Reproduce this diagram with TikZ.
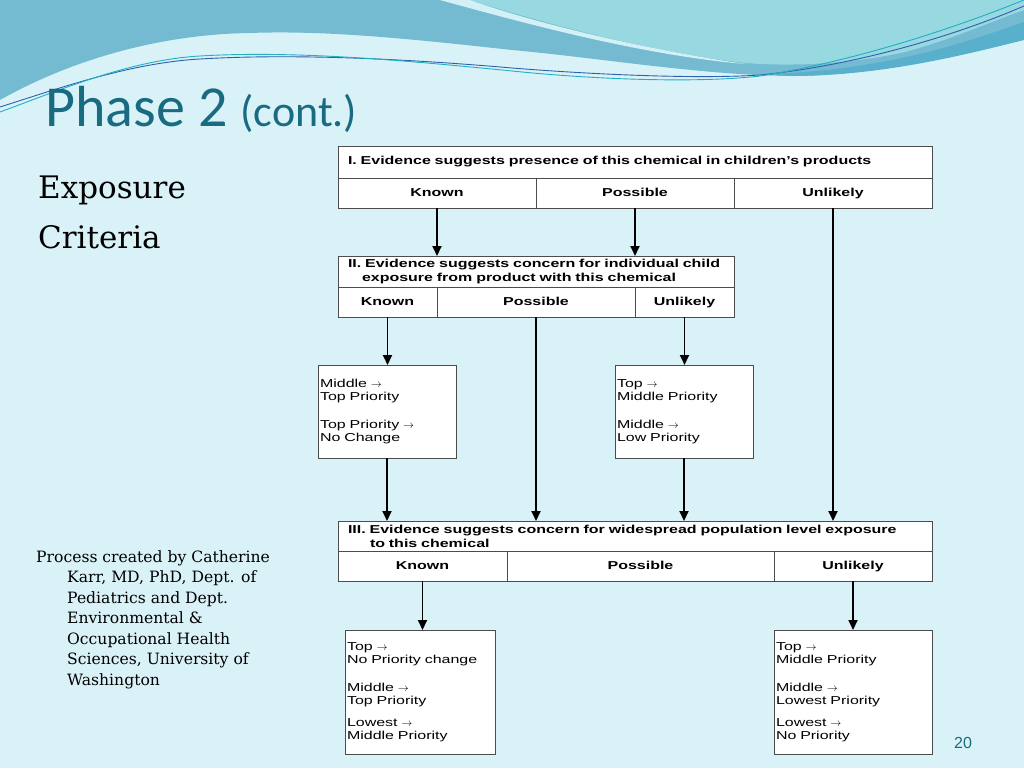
\documentclass[tikz,border=0pt]{standalone}
\usepackage{fontspec}
\setmainfont{DejaVu Serif}
\newfontfamily\boxfont[FakeStretch=1.39]{Liberation Sans}
\newfontfamily\numfont{Liberation Sans}
\newfontfamily\headfont{Carlito}
\usetikzlibrary{positioning,arrows.meta}
\definecolor{slidebg}{RGB}{217,242,248}
\definecolor{wavemid}{RGB}{116,187,209}
\definecolor{wavelight}{RGB}{151,216,225}
\definecolor{wavestreak}{RGB}{210,240,245}
\definecolor{wavedark}{RGB}{89,176,204}
\definecolor{lineblue}{RGB}{47,95,176}
\definecolor{lineteal}{RGB}{32,176,192}
\definecolor{headteal}{RGB}{24,107,128}
\newcommand{\prioarrow}{{\fontsize{10.5}{10}\selectfont$\rightarrow$}}
\tikzset{
    headrow/.style={draw=black!70, fill=white, anchor=north west, align=left, inner xsep=10pt, inner ysep=0pt, outer sep=0pt, font=\boxfont\bfseries\fontsize{11.5}{14}\selectfont},
    cellbox/.style={draw=black!70, fill=white, inner sep=0pt, outer sep=0pt, minimum height=30pt, text height=8.5pt, text depth=2.5pt, font=\boxfont\bfseries\fontsize{11.5}{14}\selectfont},
    outcome/.style={draw=black!70, fill=white, anchor=north west, align=left, inner xsep=2pt, inner ysep=0pt, outer sep=0pt, font=\boxfont\fontsize{11.5}{13.5}\selectfont},
    flow/.style={-{Triangle[length=10pt,width=9pt]}, line width=1.8pt},
}
\begin{document}
\begin{tikzpicture}[x=1pt,y=-1pt]
  \useasboundingbox (0,0) rectangle (1024,768);
  % background and waves
  \fill[slidebg] (0,0) rectangle (1024,768);
  \fill[wavemid] (0,0) -- (1024,0) -- (1024,37) .. controls (960,52) and (880,76) .. (790,76) .. controls (700,75) and (600,58) .. (512,50) .. controls (420,40) and (330,30) .. (250,33) .. controls (170,34) and (80,55) .. (0,100) -- cycle;
  \fill[wavelight] (470,0) .. controls (540,22) and (650,52) .. (745,63) .. controls (810,68) and (870,60) .. (905,52) .. controls (950,40) and (990,22) .. (1024,10) -- (1024,0) -- cycle;
  \fill[wavestreak] (440,0) .. controls (520,22) and (640,55) .. (745,64) .. controls (650,50) and (540,25) .. (470,0) -- cycle;
  \fill[wavedark] (770,74) .. controls (880,70) and (960,45) .. (1024,22) -- (1024,40) .. controls (960,56) and (880,76) .. (790,76) -- cycle;
  \draw[lineblue, line width=0.9pt] (0,107) .. controls (60,88) and (130,63) .. (200,59) .. controls (300,53) and (420,60) .. (512,68) .. controls (600,75) and (700,79) .. (760,75) .. controls (850,66) and (950,38) .. (1024,6);
  \draw[lineteal, line width=0.9pt] (0,112) .. controls (60,90) and (130,60) .. (200,56) .. controls (300,50) and (420,62) .. (512,71) .. controls (600,80) and (700,83) .. (760,76) .. controls (850,62) and (950,30) .. (1024,0);

  % slide texts
  \node[anchor=base west, inner sep=0pt, text=headteal, font=\headfont] (phasetitle) at (45,126)
    {\fontsize{58}{60}\selectfont Phase 2 \fontsize{44}{46}\selectfont(cont.)};
  \node[anchor=north west, inner sep=0pt, align=left, font=\fontsize{31}{50}\selectfont] (criteriatitle) at (38,176)
    {Exposure\\Criteria};
  \node[anchor=north west, inner sep=0pt, align=left, font=\fontsize{15.6}{20.5}\selectfont] (credits) at (36,550)
    {Process created by Catherine\\
     \hspace*{31pt}Karr, MD, PhD, Dept. of\\
     \hspace*{31pt}Pediatrics and Dept.\\
     \hspace*{31pt}Environmental \&\\
     \hspace*{31pt}Occupational Health\\
     \hspace*{31pt}Sciences, University of\\
     \hspace*{31pt}Washington};
  \node[text=headteal, font=\numfont\fontsize{16}{18}\selectfont] (pagenum) at (963,743) {20};

  % I. presence
  \node[headrow, minimum width=594pt, minimum height=32pt, text width=574pt] (presencetitle) at (338,146)
    {I. Evidence suggests presence of this chemical in children’s products};
  \node[cellbox, minimum width=198pt, below=0pt of presencetitle.south west, anchor=north west] (presenceknown) {Known};
  \node[cellbox, minimum width=198pt, right=0pt of presenceknown] (presencepossible) {Possible};
  \node[cellbox, minimum width=198pt, right=0pt of presencepossible] (presenceunlikely) {Unlikely};

  % II. individual child
  \node[headrow, minimum width=396pt, minimum height=31pt, text width=376pt] (childtitle) at (338,256)
    {II. Evidence suggests concern for individual child\\\hspace*{14pt}exposure from product with this chemical};
  \node[cellbox, minimum width=99pt, below=0pt of childtitle.south west, anchor=north west] (childknown) {Known};
  \node[cellbox, minimum width=198pt, right=0pt of childknown] (childpossible) {Possible};
  \node[cellbox, minimum width=99pt, right=0pt of childpossible] (childunlikely) {Unlikely};

  % outcomes of II
  \node[outcome, minimum width=138pt, minimum height=93pt, text width=134pt] (childknownout) at (318,365)
    {Middle \prioarrow\\Top Priority\\[14pt]Top Priority \prioarrow\\No Change};
  \node[outcome, minimum width=138pt, minimum height=93pt, text width=134pt] (childunlikelyout) at (615,365)
    {Top \prioarrow\\Middle Priority\\[14pt]Middle \prioarrow\\Low Priority};

  % III. population
  \node[headrow, minimum width=594pt, minimum height=30pt, text width=574pt] (populationtitle) at (338,521)
    {III. Evidence suggests concern for widespread population level exposure\\\hspace*{22pt}to this chemical};
  \node[cellbox, minimum width=169pt, below=0pt of populationtitle.south west, anchor=north west] (populationknown) {Known};
  \node[cellbox, minimum width=267pt, right=0pt of populationknown] (populationpossible) {Possible};
  \node[cellbox, minimum width=158pt, right=0pt of populationpossible] (populationunlikely) {Unlikely};

  % outcomes of III
  \node[outcome, minimum width=150pt, minimum height=124pt, text width=146pt] (populationknownout) at (345,630)
    {Top \prioarrow\\No Priority change\\[14pt]Middle \prioarrow\\Top Priority\\[8pt]Lowest \prioarrow\\Middle Priority};
  \node[outcome, minimum width=158pt, minimum height=124pt, text width=154pt] (populationunlikelyout) at (774,630)
    {Top \prioarrow\\Middle Priority\\[14pt]Middle \prioarrow\\Lowest Priority\\[8pt]Lowest \prioarrow\\No Priority};

  % connectors
  \draw[flow] (presenceknown.south) -- (presenceknown.south |- childtitle.north);
  \draw[flow] (presencepossible.south) -- (presencepossible.south |- childtitle.north);
  \draw[flow] (presenceunlikely.south) -- (presenceunlikely.south |- populationtitle.north);
  \draw[flow] (childknown.south) -- (childknown.south |- childknownout.north);
  \draw[flow] (childpossible.south) -- (childpossible.south |- populationtitle.north);
  \draw[flow] (childunlikely.south) -- (childunlikely.south |- childunlikelyout.north);
  \draw[flow] (childknownout.south) -- (childknownout.south |- populationtitle.north);
  \draw[flow] (childunlikelyout.south) -- (childunlikelyout.south |- populationtitle.north);
  \draw[flow] (populationknown.south) -- (populationknown.south |- populationknownout.north);
  \draw[flow] (populationunlikely.south) -- (populationunlikely.south |- populationunlikelyout.north);
\end{tikzpicture}
\end{document}
